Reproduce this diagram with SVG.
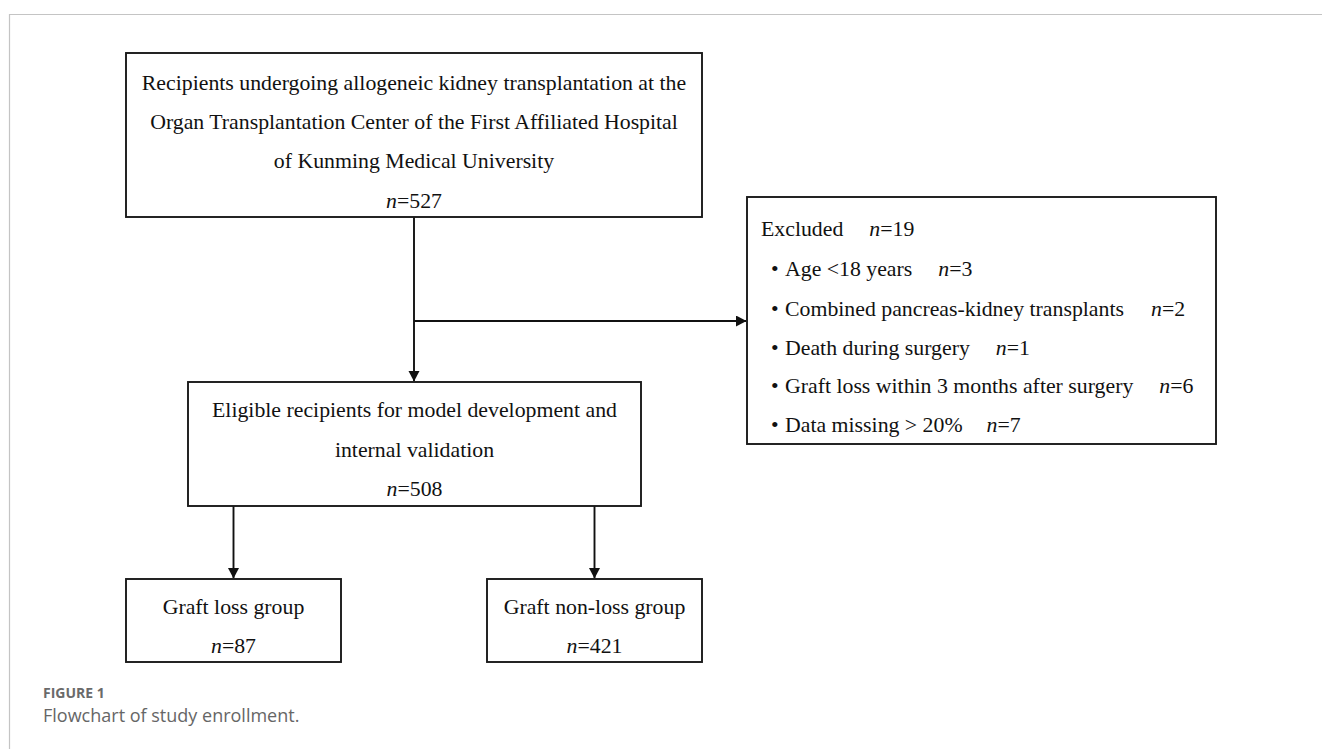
<svg xmlns="http://www.w3.org/2000/svg" width="1322" height="749" viewBox="0 0 1322 749">
<style>
.box{fill:#fff;stroke:#1a1a1a;stroke-width:1.9}
.t{font-family:"Liberation Serif","Times New Roman",serif;font-size:21.8px;fill:#111}
.c{text-anchor:middle}
.i{font-style:italic}
.ln{fill:none;stroke:#111;stroke-width:1.9}
.frame{fill:none;stroke:#c4c4c4;stroke-width:1.2}
.cap1{font-family:"Open Sans","Noto Sans",sans-serif;font-size:14px;font-weight:bold;fill:#6a6a6a}
.cap2{font-family:"Open Sans","Noto Sans",sans-serif;font-size:18px;fill:#666}
</style>
<defs>
<marker id="ah" markerWidth="11" markerHeight="12" refX="10" refY="5.5" orient="auto" markerUnits="userSpaceOnUse">
<path d="M0,0 L10.5,5.5 L0,11 Z" fill="#111"/>
</marker>
</defs>
<rect width="1322" height="749" fill="#fff"/>
<path class="frame" d="M9.5,749 V14.5 H1322"/>

<g id="connectors">
<path class="ln" d="M414,217 V381" marker-end="url(#ah)"/>
<path class="ln" d="M414,321 H746" marker-end="url(#ah)"/>
<path class="ln" d="M233.5,506 V578" marker-end="url(#ah)"/>
<path class="ln" d="M594.5,506 V578" marker-end="url(#ah)"/>
</g>

<g id="node-recipients">
<rect class="box" x="126" y="53" width="576" height="164"/>
<text class="t c" x="414" y="90">Recipients undergoing allogeneic kidney transplantation at the</text>
<text class="t c" x="414" y="129">Organ Transplantation Center of the First Affiliated Hospital</text>
<text class="t c" x="414" y="168">of Kunming Medical University</text>
<text class="t c" x="414" y="208"><tspan class="i">n</tspan>=527</text>
</g>

<g id="node-excluded">
<rect class="box" x="747" y="197" width="469" height="247"/>
<text class="t" x="761" y="236">Excluded<tspan dx="26" class="i">n</tspan>=19</text>
<text class="t" x="771" y="276">•</text>
<text class="t" x="785" y="276">Age &lt;18 years<tspan dx="26" class="i">n</tspan>=3</text>
<text class="t" x="771" y="316">•</text>
<text class="t" x="785" y="316">Combined pancreas-kidney transplants<tspan dx="27" class="i">n</tspan>=2</text>
<text class="t" x="771" y="355">•</text>
<text class="t" x="785" y="355">Death during surgery<tspan dx="26" class="i">n</tspan>=1</text>
<text class="t" x="771" y="393">•</text>
<text class="t" x="785" y="393">Graft loss within 3 months after surgery<tspan dx="26" class="i">n</tspan>=6</text>
<text class="t" x="771" y="432">•</text>
<text class="t" x="785" y="432">Data missing &gt; 20%<tspan dx="24" class="i">n</tspan>=7</text>
</g>

<g id="node-eligible">
<rect class="box" x="188" y="382" width="453" height="124"/>
<text class="t c" x="414.5" y="417">Eligible recipients for model development and</text>
<text class="t c" x="414.5" y="457">internal validation</text>
<text class="t c" x="414.5" y="496"><tspan class="i">n</tspan>=508</text>
</g>

<g id="node-loss">
<rect class="box" x="126" y="579" width="215" height="83"/>
<text class="t c" x="233.5" y="614">Graft loss group</text>
<text class="t c" x="233.5" y="653"><tspan class="i">n</tspan>=87</text>
</g>

<g id="node-nonloss">
<rect class="box" x="487" y="579" width="215" height="83"/>
<text class="t c" x="594.5" y="614">Graft non-loss group</text>
<text class="t c" x="594.5" y="653"><tspan class="i">n</tspan>=421</text>
</g>

<g id="caption">
<text class="cap1" x="43" y="698">FIGURE 1</text>
<text class="cap2" x="43" y="722">Flowchart of study enrollment.</text>
</g>
</svg>
